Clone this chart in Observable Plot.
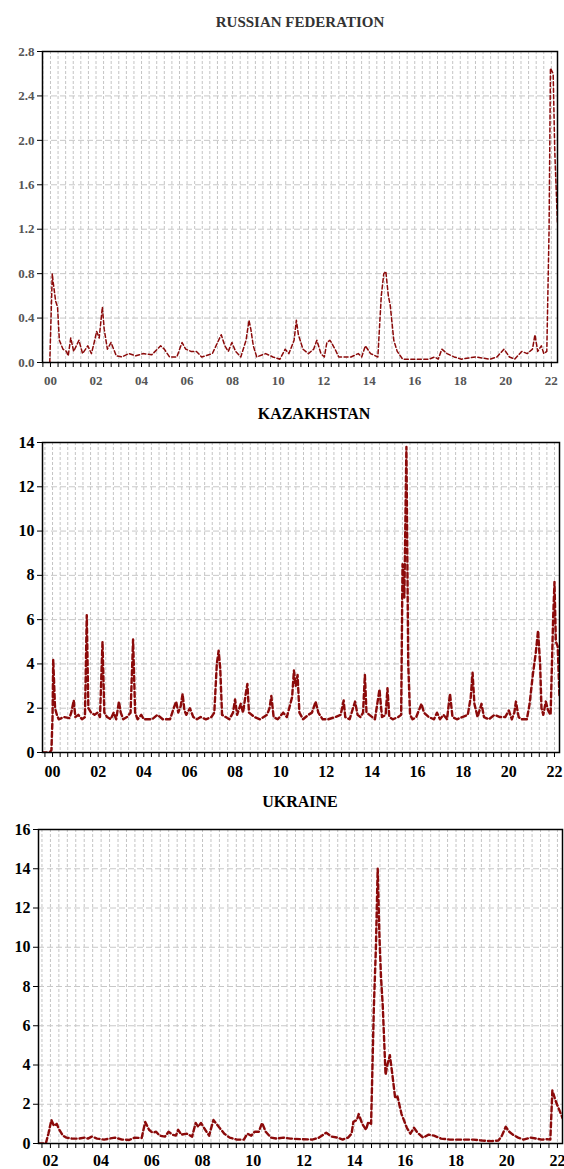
<!DOCTYPE html>
<html><head><meta charset="utf-8">
<script src="https://cdn.jsdelivr.net/npm/d3@7"></script>
<script src="https://cdn.jsdelivr.net/npm/@observablehq/plot@0.6"></script>
<style>
html,body{margin:0;padding:0;background:#fff}
body{width:564px;height:1169px;position:relative;overflow:hidden;font-family:"Liberation Serif",serif}
.title{position:absolute;font-weight:bold;white-space:nowrap;transform:translate(-50%,-50%);line-height:1}
.panel{position:absolute;left:0;width:564px}
</style></head><body>
<div id="root"></div>
<script>
// ---- data (decimal year, value) ----
const titles = ["RUSSIAN FEDERATION", "KAZAKHSTAN", "UKRAINE"];

const russia = [
[1999.97,0.0],[2000.08,0.8],[2000.12,0.72],[2000.23,0.55],[2000.31,0.5],[2000.39,0.2],[2000.55,0.12],[2000.70,0.1],[2000.78,0.06],[2000.89,0.22],
[2001.02,0.1],[2001.25,0.2],[2001.41,0.08],[2001.64,0.15],[2001.80,0.08],[2001.92,0.18],[2002.03,0.28],[2002.14,0.22],[2002.22,0.38],[2002.28,0.5],
[2002.36,0.3],[2002.50,0.12],[2002.66,0.18],[2002.89,0.06],[2003.13,0.05],[2003.44,0.08],[2003.75,0.06],[2004.06,0.08],[2004.45,0.07],[2004.84,0.15],
[2005.00,0.12],[2005.23,0.05],[2005.55,0.05],[2005.78,0.18],[2005.94,0.12],[2006.17,0.1],[2006.41,0.1],[2006.64,0.05],[2007.11,0.08],[2007.50,0.25],
[2007.66,0.15],[2007.81,0.1],[2007.97,0.18],[2008.13,0.1],[2008.36,0.05],[2008.59,0.2],[2008.72,0.38],[2008.80,0.3],[2008.91,0.15],[2009.06,0.05],
[2009.45,0.08],[2009.77,0.05],[2010.08,0.03],[2010.31,0.12],[2010.47,0.08],[2010.70,0.2],[2010.80,0.38],[2010.89,0.25],[2011.09,0.12],[2011.33,0.08],
[2011.56,0.12],[2011.70,0.2],[2011.88,0.08],[2012.03,0.05],[2012.14,0.18],[2012.27,0.2],[2012.34,0.18],[2012.50,0.12],[2012.66,0.05],[2013.20,0.05],
[2013.52,0.08],[2013.67,0.05],[2013.83,0.15],[2014.06,0.08],[2014.38,0.05],[2014.53,0.6],[2014.64,0.8],[2014.73,0.82],[2014.84,0.6],[2014.92,0.52],
[2015.08,0.2],[2015.23,0.1],[2015.47,0.03],[2016.64,0.03],[2016.88,0.05],[2017.03,0.03],[2017.19,0.12],[2017.42,0.08],[2017.73,0.05],[2018.05,0.03],
[2018.67,0.05],[2019.30,0.03],[2019.61,0.05],[2019.92,0.12],[2020.16,0.05],[2020.39,0.03],[2020.70,0.1],[2020.94,0.08],[2021.17,0.12],[2021.28,0.25],
[2021.40,0.1],[2021.56,0.15],[2021.67,0.08],[2021.80,0.1],[2021.90,1.2],[2021.96,2.65],[2022.08,2.6],[2022.15,1.9],[2022.27,1.25]
];

const kazakhstan = [
[1999.53,0],[1999.87,0],[1999.95,0.1],[2000.0,1.6],[2000.03,4.2],[2000.11,2.0],[2000.19,1.7],[2000.27,1.5],[2000.5,1.6],[2000.74,1.55],
[2000.82,1.8],[2000.93,2.35],[2001.0,1.6],[2001.13,1.7],[2001.29,1.5],[2001.42,1.6],[2001.5,6.2],[2001.57,2.0],[2001.69,1.8],[2001.84,1.7],
[2001.97,1.8],[2002.08,1.6],[2002.19,5.0],[2002.27,1.8],[2002.39,1.6],[2002.55,1.5],[2002.68,1.8],[2002.79,1.5],[2002.91,2.3],[2002.99,1.8],
[2003.1,1.5],[2003.26,1.6],[2003.42,1.8],[2003.53,5.1],[2003.62,1.8],[2003.73,1.5],[2003.89,1.7],[2004.0,1.5],[2004.2,1.5],[2004.36,1.5],
[2004.6,1.7],[2004.83,1.5],[2005.15,1.5],[2005.31,2.0],[2005.42,2.3],[2005.51,1.8],[2005.62,2.1],[2005.7,2.65],[2005.78,1.9],[2005.86,1.7],
[2006.02,2.0],[2006.17,1.6],[2006.33,1.5],[2006.49,1.6],[2006.72,1.5],[2006.96,1.6],[2007.09,1.8],[2007.2,4.0],[2007.28,4.6],[2007.35,3.8],
[2007.43,1.7],[2007.59,1.6],[2007.75,1.5],[2007.91,1.8],[2008.0,2.4],[2008.09,1.7],[2008.25,2.2],[2008.35,1.8],[2008.46,2.6],[2008.54,3.1],
[2008.61,1.8],[2008.85,1.6],[2009.09,1.5],[2009.4,1.7],[2009.51,2.0],[2009.59,2.55],[2009.69,1.6],[2009.87,1.5],[2010.11,1.8],[2010.27,1.6],
[2010.5,2.5],[2010.58,3.7],[2010.66,3.0],[2010.74,3.5],[2010.82,1.8],[2010.98,1.5],[2011.21,1.7],[2011.37,1.8],[2011.53,2.3],[2011.65,1.8],
[2011.84,1.5],[2012.08,1.5],[2012.39,1.6],[2012.63,1.7],[2012.76,2.35],[2012.83,1.6],[2013.02,1.5],[2013.26,2.3],[2013.37,1.7],[2013.5,1.6],
[2013.61,1.8],[2013.69,3.5],[2013.76,1.8],[2013.89,1.7],[2014.13,1.5],[2014.33,2.85],[2014.44,1.6],[2014.6,1.7],[2014.68,2.9],[2014.76,1.6],
[2014.91,1.5],[2015.15,1.6],[2015.28,1.7],[2015.34,8.5],[2015.42,7.0],[2015.51,13.8],[2015.59,4.0],[2015.67,1.7],[2015.78,1.5],[2015.94,1.6],
[2016.17,2.2],[2016.28,1.8],[2016.49,1.6],[2016.72,1.5],[2016.85,1.8],[2016.98,1.5],[2017.14,1.7],[2017.29,1.5],[2017.42,2.65],[2017.53,1.6],
[2017.72,1.5],[2017.96,1.6],[2018.2,1.7],[2018.33,2.5],[2018.41,3.6],[2018.49,2.2],[2018.63,1.6],[2018.8,2.2],[2018.91,1.6],[2019.13,1.5],
[2019.37,1.7],[2019.61,1.6],[2019.84,1.6],[2020.0,1.9],[2020.13,1.5],[2020.24,1.8],[2020.31,2.3],[2020.43,1.6],[2020.55,1.5],[2020.79,1.5],
[2020.91,2.2],[2021.05,3.5],[2021.18,4.5],[2021.28,5.5],[2021.37,4.0],[2021.43,2.0],[2021.51,1.7],[2021.62,2.3],[2021.72,1.9],[2021.83,1.7],
[2021.94,6.0],[2022.0,7.7],[2022.06,5.0],[2022.14,4.8],[2022.22,2.5]
];

const ukraine = [
[2001.53,0],[2001.82,0],[2001.92,0.5],[2002.04,1.2],[2002.14,0.9],[2002.25,1.0],[2002.35,0.7],[2002.49,0.4],[2002.63,0.3],[2002.85,0.25],
[2003.13,0.25],[2003.34,0.3],[2003.48,0.25],[2003.63,0.35],[2003.84,0.25],[2004.12,0.2],[2004.33,0.25],[2004.55,0.3],[2004.83,0.2],[2005.11,0.18],
[2005.32,0.3],[2005.6,0.28],[2005.74,1.1],[2005.89,0.7],[2006.03,0.55],[2006.17,0.6],[2006.31,0.4],[2006.52,0.35],[2006.66,0.6],[2006.81,0.45],
[2006.95,0.4],[2007.04,0.7],[2007.16,0.45],[2007.38,0.5],[2007.59,0.35],[2007.73,1.05],[2007.83,0.85],[2007.94,1.05],[2008.08,0.75],[2008.26,0.4],
[2008.43,1.2],[2008.64,0.85],[2008.86,0.5],[2009.07,0.3],[2009.35,0.2],[2009.63,0.2],[2009.77,0.5],[2009.92,0.4],[2010.06,0.6],[2010.22,0.6],
[2010.35,1.05],[2010.49,0.6],[2010.70,0.3],[2010.91,0.25],[2011.19,0.3],[2011.47,0.25],[2011.9,0.22],[2012.32,0.2],[2012.6,0.3],[2012.88,0.55],
[2013.1,0.35],[2013.32,0.3],[2013.53,0.2],[2013.74,0.3],[2013.88,0.5],[2013.95,1.1],[2014.09,1.2],[2014.16,1.5],[2014.3,1.0],[2014.45,0.7],
[2014.54,1.1],[2014.65,1.0],[2014.76,7.0],[2014.84,10.0],[2014.91,14.0],[2014.98,10.5],[2015.04,8.5],[2015.11,7.0],[2015.22,3.5],[2015.29,4.0],
[2015.39,4.5],[2015.49,3.5],[2015.6,2.3],[2015.69,2.4],[2015.85,1.5],[2016.06,0.8],[2016.2,0.5],[2016.34,0.8],[2016.48,0.55],[2016.7,0.3],
[2016.92,0.45],[2017.13,0.4],[2017.41,0.25],[2017.76,0.2],[2018.05,0.2],[2018.33,0.2],[2018.68,0.2],[2019.03,0.15],[2019.38,0.12],[2019.67,0.15],
[2019.81,0.4],[2019.96,0.85],[2020.1,0.6],[2020.24,0.45],[2020.45,0.3],[2020.66,0.2],[2020.95,0.3],[2021.17,0.25],[2021.38,0.2],[2021.59,0.22],
[2021.72,0.2],[2021.8,2.7],[2021.92,2.2],[2022.2,1.3]
];

const ruYTicks = [0, 0.4, 0.8, 1.2, 1.6, 2.0, 2.4, 2.8];
const kzYTicks = [0, 2, 4, 6, 8, 10, 12, 14];
const uaYTicks = [0, 2, 4, 6, 8, 10, 12, 14, 16];
const ruXLabels = [2000, 2002, 2004, 2006, 2008, 2010, 2012, 2014, 2016, 2018, 2020, 2022];
const kzXLabels = [2000, 2002, 2004, 2006, 2008, 2010, 2012, 2014, 2016, 2018, 2020, 2022];
const uaXLabels = [2002, 2004, 2006, 2008, 2010, 2012, 2014, 2016, 2018, 2020, 2022];

// ---- drawing ----
const root = document.getElementById("root");
const yy = d => String(d % 100).padStart(2, "0");

function panel(cfg) {
  const data = cfg.series.map(([t, v]) => ({t, v}));
  const [x0, x1] = cfg.xDomain;
  const minor = d3.range(Math.ceil(x0 * 3), Math.floor(x1 * 3) + 1).map(k => k / 3);
  const gridY = cfg.yTicks.filter(d => d > cfg.yDomain[0] && d < cfg.yDomain[1]);
  const svg = Plot.plot({
    width: 564,
    height: cfg.height,
    marginTop: cfg.marginTop,
    marginBottom: cfg.marginBottom,
    marginLeft: cfg.marginLeft,
    marginRight: cfg.marginRight,
    style: {fontFamily: "'Liberation Serif', serif", fontSize: cfg.fontSize + "px", fontWeight: "bold", color: cfg.textColor, background: "#fff"},
    x: {domain: cfg.xDomain, axis: null},
    y: {domain: cfg.yDomain, axis: null},
    marks: [
      Plot.ruleX(minor, {stroke: "#c4c4c4", strokeWidth: 1, strokeDasharray: "3,2"}),
      Plot.ruleY(gridY, {stroke: "#c8c8c8", strokeWidth: 1, strokeDasharray: "6,3"}),
      Plot.line(data, {x: "t", y: "v", stroke: "#8b0a0a", strokeWidth: cfg.lineWidth, strokeDasharray: cfg.dash, clip: true}),
      Plot.frame({stroke: "#000", strokeWidth: 1.5}),
      Plot.axisY({ticks: cfg.yTicks, tickSize: 5, tickPadding: 3, tickFormat: cfg.yFormat, stroke: "#000", fill: cfg.textColor, label: null}),
      Plot.axisX({ticks: minor, tickSize: 5, tickFormat: () => "", stroke: "#000", label: null}),
      Plot.axisX({ticks: cfg.xLabels, tickSize: 0, tickPadding: cfg.xPad, tickFormat: yy, fill: cfg.textColor, label: null})
    ]
  });
  const wrap = document.createElement("div");
  wrap.className = "panel";
  wrap.style.top = cfg.top + "px";
  wrap.appendChild(svg);
  root.appendChild(wrap);
  const t = document.createElement("div");
  t.className = "title";
  t.textContent = cfg.title;
  t.style.left = cfg.titleX + "px";
  t.style.top = cfg.titleY + "px";
  t.style.fontSize = cfg.titleSize + "px";
  t.style.color = cfg.titleColor;
  root.appendChild(t);
}

panel({
  title: titles[0], titleX: 300, titleY: 22, titleSize: 15, titleColor: "#333",
  series: russia, xDomain: [1999.65, 2022.27], yDomain: [0, 2.8], yTicks: ruYTicks, xLabels: ruXLabels,
  yFormat: d3.format(".1f"), top: 35, height: 357, marginTop: 16, marginBottom: 30, marginLeft: 42, marginRight: 7,
  fontSize: 13, textColor: "#555", lineWidth: 1.5, dash: "4,2.5", xPad: 13
});
panel({
  title: titles[1], titleX: 314, titleY: 414, titleSize: 16, titleColor: "#000",
  series: kazakhstan, xDomain: [1999.56, 2022.22], yDomain: [0, 14], yTicks: kzYTicks, xLabels: kzXLabels,
  yFormat: d3.format("d"), top: 425, height: 357, marginTop: 17, marginBottom: 30, marginLeft: 42, marginRight: 5,
  fontSize: 16, textColor: "#000", lineWidth: 2.4, dash: "5,3", xPad: 13
});
panel({
  title: titles[2], titleX: 300, titleY: 802, titleSize: 16, titleColor: "#000",
  series: ukraine, xDomain: [2001.53, 2022.2], yDomain: [0, 16], yTicks: uaYTicks, xLabels: uaXLabels,
  yFormat: d3.format("d"), top: 810, height: 359, marginTop: 19, marginBottom: 26, marginLeft: 38, marginRight: 2,
  fontSize: 16, textColor: "#000", lineWidth: 2.4, dash: "5,3", xPad: 11
});
</script>
</body></html>
